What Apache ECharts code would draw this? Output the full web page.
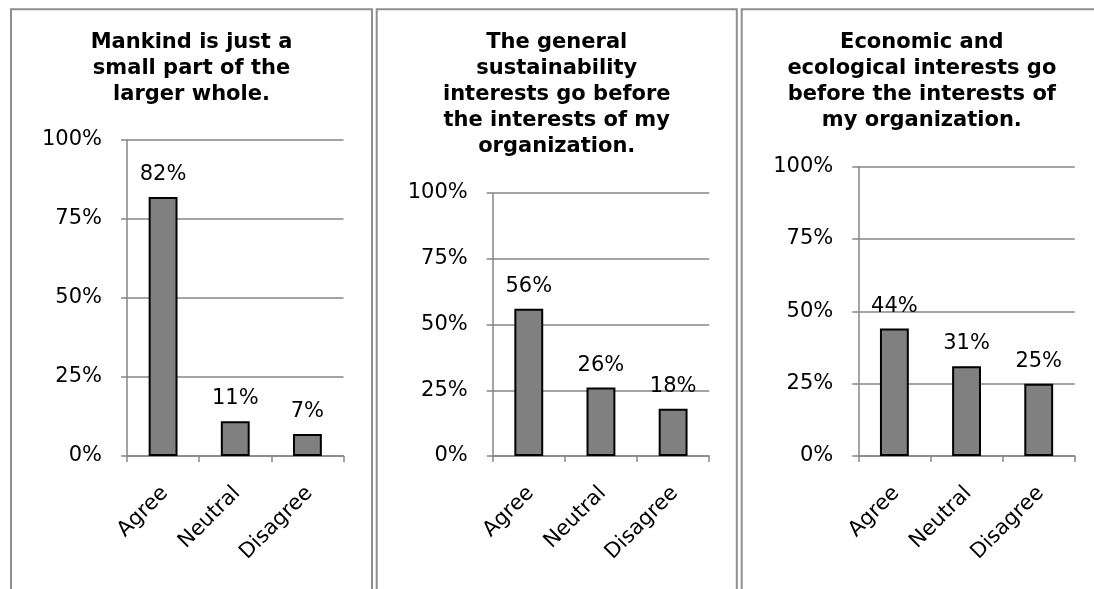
<!DOCTYPE html>
<html>
<head>
<meta charset="utf-8">
<script src="https://cdn.jsdelivr.net/npm/echarts@6/dist/echarts.min.js"></script>
<style>
  html, body { margin: 0; padding: 0; background: #ffffff; }
  #chart { width: 1094px; height: 589px; }
</style>
</head>
<body>
<div id="chart"></div>
<script>
// Survey answers, one small chart per statement
const categories = ['Agree', 'Neutral', 'Disagree'];

const statementTitles = [
  'Mankind is just a\nsmall part of the\nlarger whole.',
  'The general\nsustainability\ninterests go before\nthe interests of my\norganization.',
  'Economic and\necological interests go\nbefore the interests of\nmy organization.'
];

const mankindShares = [82, 11, 7];
const sustainabilityShares = [56, 26, 18];
const economicShares = [44, 31, 25];

const yTickStep = 25;   // 0%, 25%, 50%, 75%, 100%
const yMax = 100;

const seriesData = [mankindShares, sustainabilityShares, economicShares];

// Panel frames and plot areas (pixels)
const panels = [
  { x0: 11, x1: 372, plotLeft: 127, plotTop: 140 },
  { x0: 376.7, x1: 736.8, plotLeft: 492.7, plotTop: 193 },
  { x0: 741.7, x1: 1102, plotLeft: 858.3, plotTop: 166.5 }
];
const plotWidth = 216.5;
const plotBottom = 456;
const frameTop = 9.2;

const FONT = 'DejaVu Sans';
const GRID_GRAY = '#868686';

const option = {
  backgroundColor: '#ffffff',
  animation: false,
  title: panels.map((p, i) => ({
    text: statementTitles[i],
    left: (p.x0 + p.x1) / 2,
    top: 30,
    padding: 0,
    textAlign: 'center',
    textStyle: {
      fontFamily: FONT,
      fontWeight: 'bold',
      fontSize: 21,
      lineHeight: 26,
      color: '#000000'
    }
  })),
  graphic: panels.map(p => ({
    type: 'rect',
    silent: true,
    shape: { x: p.x0, y: frameTop, width: p.x1 - p.x0, height: 640 },
    style: { fill: 'none', stroke: '#8f8f8f', lineWidth: 2 }
  })),
  grid: panels.map(p => ({
    left: p.plotLeft,
    top: p.plotTop,
    width: plotWidth,
    height: plotBottom - p.plotTop,
    containLabel: false
  })),
  xAxis: panels.map((p, i) => ({
    type: 'category',
    gridIndex: i,
    data: categories,
    boundaryGap: true,
    axisLine: { show: true, lineStyle: { color: GRID_GRAY, width: 1.5 } },
    axisTick: { show: true, length: 6, alignWithLabel: false, lineStyle: { color: GRID_GRAY, width: 1.5 } },
    axisLabel: {
      rotate: 45,
      interval: 0,
      margin: 21,
      align: 'right',
      verticalAlign: 'top',
      padding: [0, 8, 0, 0],
      fontFamily: FONT,
      fontSize: 21,
      lineHeight: 21,
      color: '#000000'
    },
    splitLine: { show: false }
  })),
  yAxis: panels.map((p, i) => ({
    type: 'value',
    gridIndex: i,
    min: 0,
    max: yMax,
    interval: yTickStep,
    axisLine: { show: true, lineStyle: { color: GRID_GRAY, width: 1.5 } },
    axisTick: { show: true, length: 6, lineStyle: { color: GRID_GRAY, width: 1.5 } },
    axisLabel: {
      formatter: '{value}%',
      margin: 25,
      fontFamily: FONT,
      fontSize: 21,
      color: '#000000'
    },
    splitLine: { show: true, lineStyle: { color: GRID_GRAY, width: 1.5 } }
  })),
  series: seriesData.map((values, i) => ({
    type: 'bar',
    xAxisIndex: i,
    yAxisIndex: i,
    data: values,
    barCategoryGap: '60%',
    itemStyle: { color: '#808080', borderColor: '#000000', borderWidth: 2 },
    label: {
      show: true,
      position: 'top',
      distance: 12,
      formatter: '{c}%',
      fontFamily: FONT,
      fontSize: 21,
      lineHeight: 21,
      color: '#000000'
    }
  }))
};

const chart = echarts.init(document.getElementById('chart'), null, { renderer: 'canvas' });
chart.setOption(option);
</script>
</body>
</html>
